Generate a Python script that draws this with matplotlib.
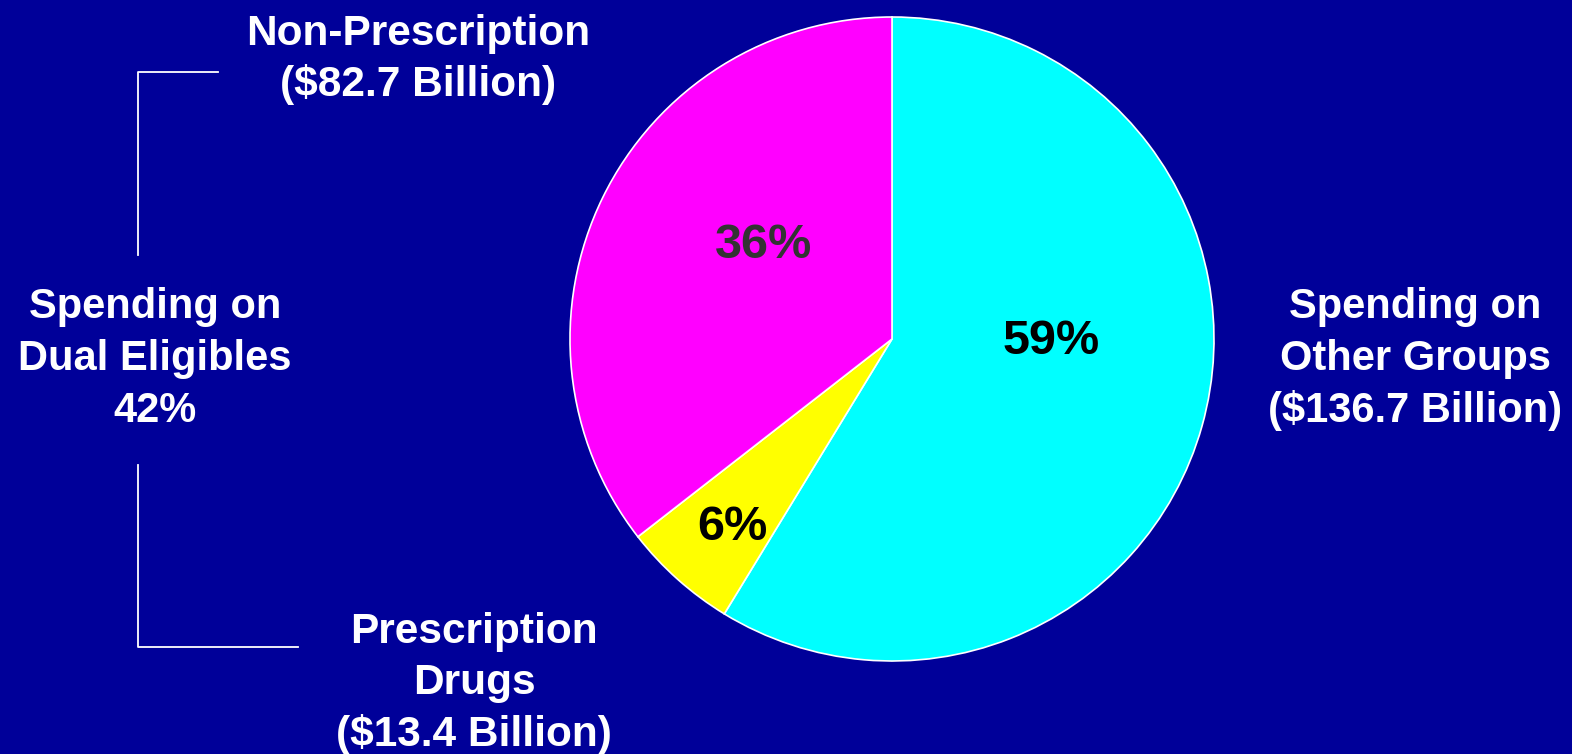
import matplotlib
matplotlib.use("Agg")
import matplotlib.pyplot as plt
from matplotlib.lines import Line2D

# Data
categories = ["Spending on Other Groups", "Prescription Drugs", "Non-Prescription"]
values = [136.7, 13.4, 82.7]  # $ Billion
colors = ["#00FFFF", "#FFFF00", "#FF00FF"]
pct_colors = ["#000000", "#000000", "#333333"]
dual_share_label = "42%"

BG = "#000099"
W, H = 1572, 754
fig = plt.figure(figsize=(W / 100, H / 100), dpi=100, facecolor=BG)

# pie axes (pixel-based placement)
cx, cy, r = 892, 339, 322
ax = fig.add_axes([(cx - r) / W, (H - cy - r) / H, 2 * r / W, 2 * r / H])
ax.set_facecolor(BG)
wedges, texts, autotexts = ax.pie(
    values, colors=colors, startangle=90, counterclock=False,
    autopct="%.0f%%", wedgeprops=dict(edgecolor="white", linewidth=1.2),
    textprops=dict(fontsize=35, fontweight="bold", family="Liberation Sans"),
)
ax.set_xlim(-1, 1)
ax.set_ylim(-1, 1)
ax.set_aspect("equal")
ax.axis("off")

pct_pos = [(0.493, -0.008), (-0.495, -0.585), (-0.40, 0.29)]
for t, p, c in zip(autotexts, pct_pos, pct_colors):
    t.set_position(p)
    t.set_color(c)
    t.set_ha("center")
    t.set_va("center")

def ftext(x, baselines, lines, size=30):
    for y, s in zip(baselines, lines):
        fig.text(x / W, 1 - y / H, s, ha="center", va="baseline", color="white",
                 fontsize=size, fontweight="bold", family="Liberation Sans")

ftext(418, [45, 96], ["Non-Prescription", "($%.1f Billion)" % values[2]], size=30.5)
ftext(474, [643, 694, 746], ["Prescription", "Drugs", "($%.1f Billion)" % values[1]], size=30.5)
ftext(155, [318, 370, 422], ["Spending on", "Dual Eligibles", dual_share_label])
ftext(1415, [318, 370, 422], ["Spending on", "Other Groups", "($%.1f Billion)" % values[0]])

# bracket lines
def fline(xs, ys):
    fig.add_artist(Line2D([x / W for x in xs], [1 - y / H for y in ys],
                          color="white", linewidth=1.3))

fline([218, 138, 138], [72, 72, 255])
fline([138, 138, 298], [465, 647, 647])

fig.savefig("out.png", dpi=100, facecolor=BG)
